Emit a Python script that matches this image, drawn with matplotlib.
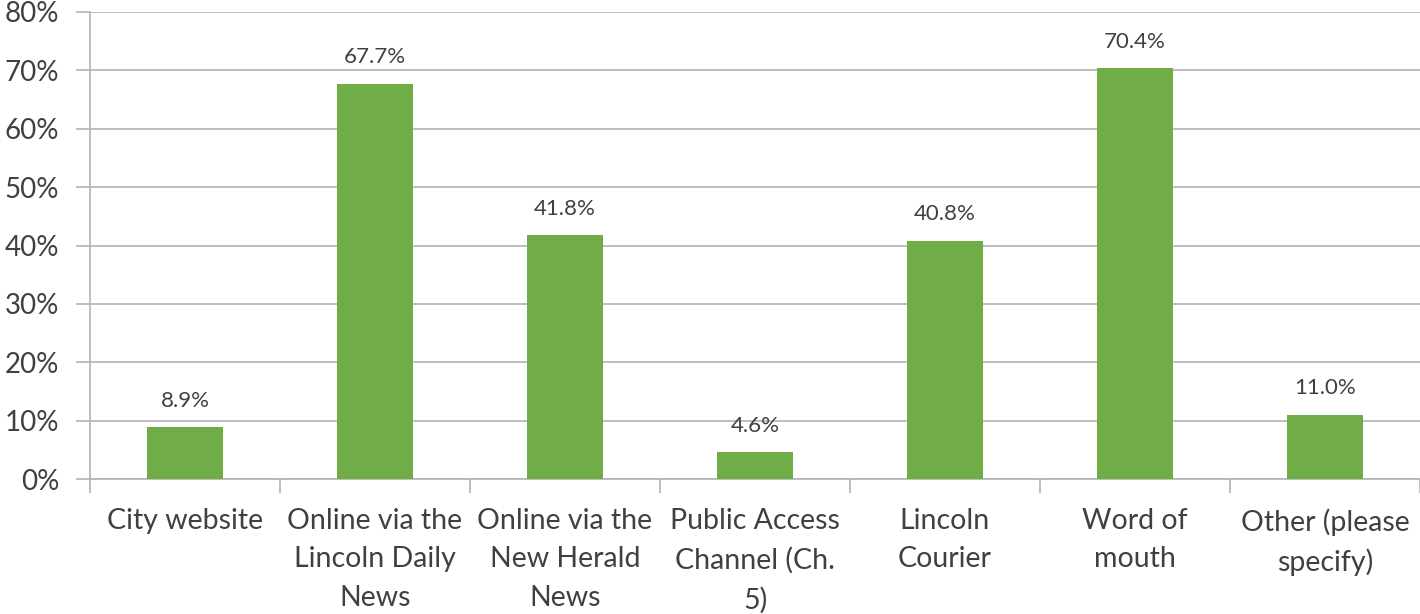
import matplotlib
matplotlib.use("Agg")
import matplotlib.pyplot as plt
import numpy as np

categories = ["City website", "Online via the\nLincoln Daily\nNews", "Online via the\nNew Herald\nNews",
              "Public Access\nChannel (Ch.\n5)", "Lincoln\nCourier", "Word of\nmouth", "Other (please\nspecify)"]
values = [8.9, 67.7, 41.8, 4.6, 40.8, 70.4, 11.0]
yticks = [0, 10, 20, 30, 40, 50, 60, 70, 80]
ytick_labels = [f"{v}%" for v in yticks]

plt.rcParams['font.family'] = ['Lato', 'DejaVu Sans']
text_color = "#404040"
grid_color = "#B3B3B3"
bar_color = "#70AD47"

fig = plt.figure(figsize=(14.2, 6.14), dpi=100)
ax = fig.add_axes([90/1420, 1-479/614, 1-90/1420, (479-12)/614])

x = np.arange(len(categories))
ax.bar(x, values, width=0.4, color=bar_color, zorder=3)
for xi, v in zip(x, values):
    ax.text(xi, v + 2.8, f"{v:.1f}%", ha="center", va="bottom", fontsize=16, color=text_color)

ax.set_xlim(-0.5, len(categories) - 0.5)
ax.set_ylim(0, 80)
ax.set_yticks(yticks)
ax.set_yticklabels(ytick_labels, fontsize=20, color=text_color)
ax.yaxis.grid(True, color=grid_color, linewidth=1.2, zorder=0)
ax.set_axisbelow(True)

ax.set_xticks(np.arange(len(categories) + 1) - 0.5, minor=False)
ax.set_xticklabels([])
ax.set_xticks(x, minor=True)
ax.set_xticklabels(categories, minor=True, fontsize=20.5, color=text_color, linespacing=1.58, va="top")
ax.tick_params(axis="x", which="major", length=10, width=1.2, color=grid_color, direction="out")
ax.tick_params(axis="x", which="minor", length=0, pad=21)
ax.tick_params(axis="y", length=10, width=1.2, color=grid_color, pad=12)

for s in ["top", "right"]:
    ax.spines[s].set_visible(False)
ax.spines["left"].set_color(grid_color)
ax.spines["left"].set_linewidth(1.2)
ax.spines["bottom"].set_color(grid_color)
ax.spines["bottom"].set_linewidth(1.2)

fig.savefig("out.png", dpi=100)
